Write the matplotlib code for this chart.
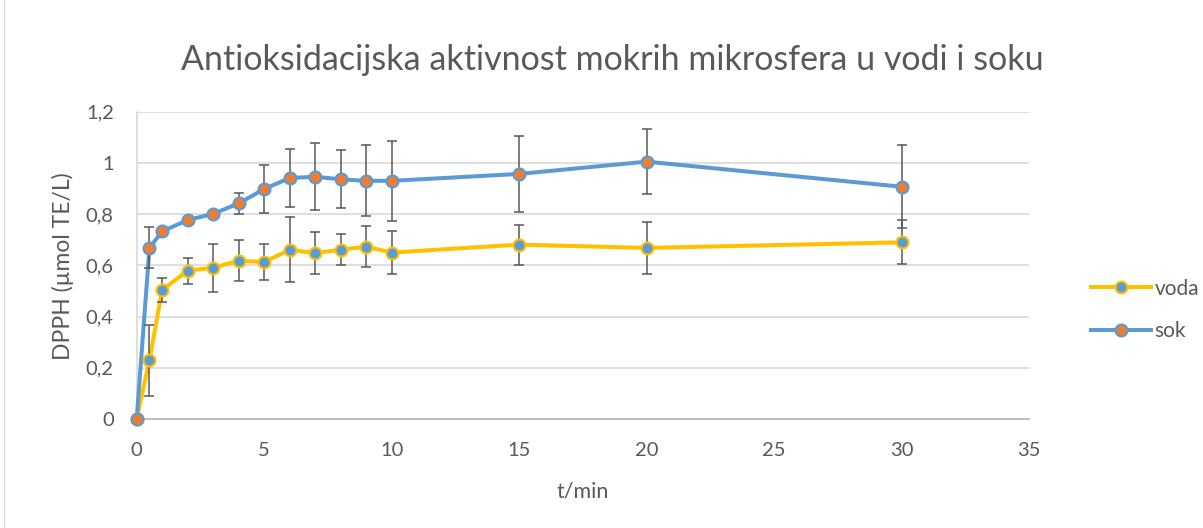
import matplotlib
matplotlib.use("Agg")
import matplotlib.pyplot as plt
from matplotlib.lines import Line2D
from matplotlib.patches import Rectangle
from matplotlib.ticker import FuncFormatter, MultipleLocator

# ---- data ----
t_min = [0, 0.5, 1, 2, 3, 4, 5, 6, 7, 8, 9, 10, 15, 20, 30]
voda = [0, 0.230, 0.504, 0.579, 0.591, 0.618, 0.613, 0.661, 0.648, 0.661, 0.673, 0.650, 0.681, 0.668, 0.690]
voda_err = [0, 0.139, 0.047, 0.051, 0.094, 0.080, 0.070, 0.126, 0.083, 0.061, 0.079, 0.083, 0.078, 0.100, 0.086]
sok = [0, 0.668, 0.733, 0.777, 0.801, 0.842, 0.898, 0.941, 0.946, 0.936, 0.930, 0.930, 0.957, 1.005, 0.907]
sok_err = [0, 0.080, 0, 0, 0, 0.040, 0.092, 0.113, 0.130, 0.113, 0.139, 0.155, 0.147, 0.126, 0.163]
series_names = ["voda", "sok"]
title = "Antioksidacijska aktivnost mokrih mikrosfera u vodi i soku"
xlabel = "t/min"
ylabel = "DPPH (µmol TE/L)"

plt.rcParams['font.family'] = ['Lato', 'DejaVu Sans']

W, H = 1203, 528
fig = plt.figure(figsize=(W / 100, H / 100), dpi=100)
fig.patch.set_facecolor("white")

# chart border
fig.patches.append(Rectangle((4 / W, -0.1), 1.1, 1.1 + 1 - 12 / H, transform=fig.transFigure,
                             fill=False, edgecolor="#d9d9d9", linewidth=1))

left, right = 136.7 / W, 1029 / W
bottom, top = 1 - 419 / H, 1 - 111.7 / H
ax = fig.add_axes([left, bottom, right - left, top - bottom])

yellow = "#FFC000"
blue = "#5B9BD5"
orange = "#ED7D31"
errc = "#595959"
txt = "#595959"

lw = 2.9
ms = 8.6
mew = 1.5

ax.plot(t_min, voda, color=yellow, lw=lw, zorder=3, solid_capstyle="round", clip_on=False)
ax.plot(t_min, sok, color=blue, lw=lw, zorder=3, solid_capstyle="round", clip_on=False)
ax.errorbar(t_min, voda, yerr=voda_err, fmt="none", ecolor=errc, elinewidth=1.1,
            capsize=3.8, capthick=1.1, zorder=4)
ax.errorbar(t_min, sok, yerr=sok_err, fmt="none", ecolor=errc, elinewidth=1.1,
            capsize=3.8, capthick=1.1, zorder=4)
ax.plot(t_min, voda, ls="none", marker="o", ms=ms, mfc=blue, mec=yellow, mew=mew, zorder=5, clip_on=False)
ax.plot(t_min, sok, ls="none", marker="o", ms=ms, mfc=orange, mec=blue, mew=mew, zorder=6, clip_on=False)

ax.set_xlim(0, 35)
ax.set_ylim(0, 1.2)
ax.xaxis.set_major_locator(MultipleLocator(5))
ax.yaxis.set_major_locator(MultipleLocator(0.2))
fmt = FuncFormatter(lambda v, p: ("%g" % round(v, 2)).replace(".", ","))
ax.xaxis.set_major_formatter(fmt)
ax.yaxis.set_major_formatter(fmt)
ax.tick_params(axis="both", length=0, labelsize=14.5, labelcolor=txt)
ax.tick_params(axis="y", pad=16.5)
ax.tick_params(axis="x", pad=16.5)

ax.grid(axis="y", color="#d9d9d9", lw=1.2, zorder=0)
ax.set_axisbelow(True)
for s in ["top", "right"]:
    ax.spines[s].set_visible(False)
ax.spines["left"].set_color("#d9d9d9")
ax.spines["left"].set_linewidth(1.2)
ax.spines["bottom"].set_color("#bfbfbf")
ax.spines["bottom"].set_linewidth(1.5)
ax.spines["bottom"].set_zorder(1)

fig.text((136.7 + 1029) / 2 / W, 1 - 491 / H, xlabel, ha="center", va="center",
         fontsize=15.5, color=txt)
fig.text(62.5 / W, 1 - 266 / H, ylabel, ha="center", va="center", rotation=90,
         fontsize=16.5, color=txt)

fig.text(612 / W, 1 - 60 / H, title, ha="center", va="center", fontsize=24.5, color=txt)

handles = [
    Line2D([], [], color=yellow, lw=lw, marker="o", ms=ms, mfc=blue, mec=yellow, mew=mew),
    Line2D([], [], color=blue, lw=lw, marker="o", ms=ms, mfc=orange, mec=blue, mew=mew),
]
fig.legend(handles, series_names, loc="center left", bbox_to_anchor=(1072 / W, 1 - 310 / H),
           frameon=False, fontsize=15, labelcolor=txt, handlelength=2.9,
           handletextpad=0.15, labelspacing=1.1)

fig.savefig("out.png", dpi=100, facecolor="white")
